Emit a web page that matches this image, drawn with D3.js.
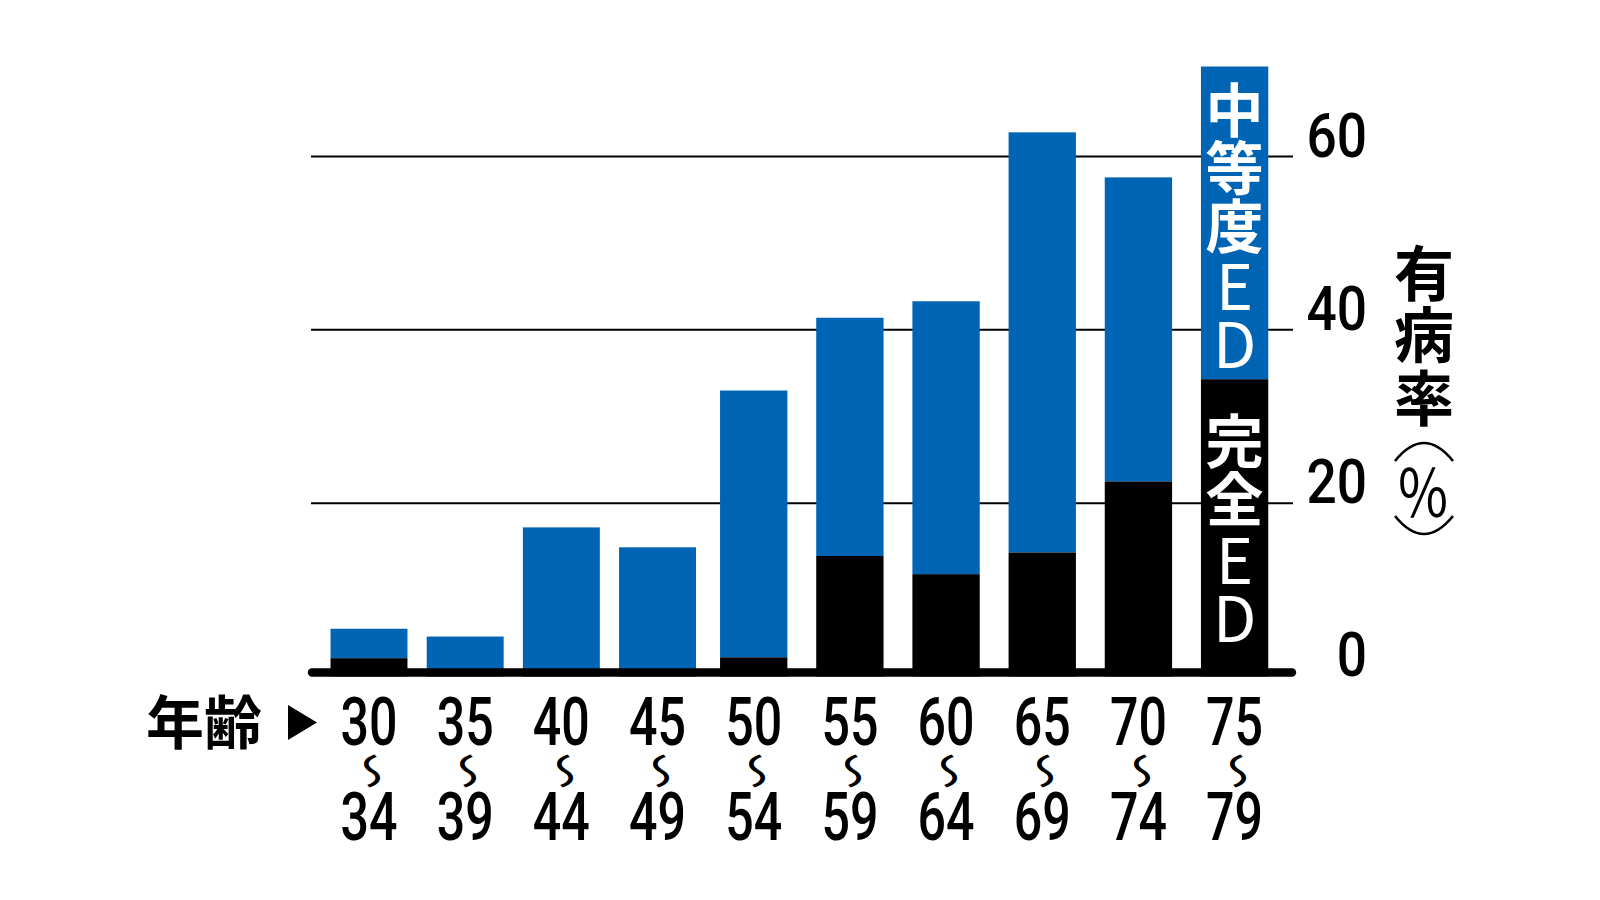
<!DOCTYPE html>
<html>
<head>
<meta charset="utf-8">
<script src="https://cdn.jsdelivr.net/npm/d3@7"></script>
<style>
  html, body { margin: 0; padding: 0; background: #ffffff; }
  svg { display: block; }
  .vt { writing-mode: vertical-rl; text-orientation: upright; }
</style>
</head>
<body>
<script>
// ---- data ----
const ageStart = ["30", "35", "40", "45", "50", "55", "60", "65", "70", "75"];
const ageEnd   = ["34", "39", "44", "49", "54", "59", "64", "69", "74", "79"];
const completeED = [2.1, 0.8, 0.8, 0.8, 2.2, 13.9, 11.8, 14.3, 22.5, 34.3];
const moderateED = [3.4, 3.8, 16.4, 14.1, 30.8, 27.5, 31.5, 48.5, 35.1, 36.1];
const yTicks = [0, 20, 40, 60];
const seriesNames = ["完全ED", "中等度ED"];
const yTitle = "有病率";
const xTitle = "年齢";

const W = 1600, H = 900;
const blue = "#0064b4";
const cjk = "'Noto Sans CJK JP', 'Noto Sans CJK SC', sans-serif";
const num = "Roboto, 'Noto Sans', sans-serif";

const svg = d3.select("body").append("svg").attr("width", W).attr("height", H);

const x = d3.scalePoint().domain(ageStart).range([369, 1234.6]);
const step = x.step();
const y = d3.scaleLinear().domain([0, 60]).range([676.4, 156.6]);

const rows = ageStart.map((a, i) => ({
  a, e: ageEnd[i], c: completeED[i], m: moderateED[i], i
}));

// gridlines
svg.append("g").selectAll("line").data(yTicks.filter(t => t > 0)).join("line")
  .attr("x1", 311).attr("x2", 1293)
  .attr("y1", d => y(d)).attr("y2", d => y(d))
  .attr("stroke", "#000").attr("stroke-width", 2);

// bars
const bw = i => (i < 4 ? 0.8 : 0.7) * step;
const gb = svg.append("g");
gb.selectAll("rect.m").data(rows).join("rect").attr("class", "m")
  .attr("x", d => x(d.a) - bw(d.i) / 2).attr("width", d => bw(d.i))
  .attr("y", d => y(d.c + d.m)).attr("height", d => y(d.c) - y(d.c + d.m))
  .attr("fill", blue);
gb.selectAll("rect.c").data(rows).join("rect").attr("class", "c")
  .attr("x", d => x(d.a) - bw(d.i) / 2).attr("width", d => bw(d.i))
  .attr("y", d => y(d.c)).attr("height", d => y(0) - y(d.c))
  .attr("fill", "#000");

// baseline
svg.append("line").attr("x1", 312).attr("x2", 1292)
  .attr("y1", 672.5).attr("y2", 672.5)
  .attr("stroke", "#000").attr("stroke-width", 8.4).attr("stroke-linecap", "round");

// legend text inside last bar (vertical writing)
const last = rows[rows.length - 1];
const lx = x(last.a);
function vText(str, top) {
  const t = svg.append("text").attr("class", "vt")
    .attr("x", lx).attr("y", top)
    .attr("fill", "#fff")
    .attr("font-family", cjk).attr("font-size", 58);
  const parts = str.match(/[^A-Z]+|[A-Z]+/g);
  parts.forEach(p => {
    const isLatin = /[A-Z]/.test(p);
    t.append("tspan")
      .attr("font-weight", isLatin ? 400 : 700)
      .attr("font-size", isLatin ? 63 : 58)
      .attr("letter-spacing", isLatin ? -5 : 0)
      .text(p);
  });
}
vText(seriesNames[1], y(last.c + last.m) + 14);
vText(seriesNames[0], y(last.c) + 33);

// y tick labels (right side)
svg.append("g").selectAll("text").data(yTicks).join("text")
  .attr("transform", d => `translate(1367,${y(d)}) scale(0.86,1)`)
  .attr("text-anchor", "end")
  .attr("font-family", num).attr("font-weight", 500).attr("font-size", 62)
  .attr("fill", "#000")
  .text(d => d);

// y title (vertical)
const ty = svg.append("g");
ty.append("text").attr("class", "vt")
  .attr("x", 1424).attr("y", 243)
  .attr("letter-spacing", 2.5)
  .attr("font-family", cjk).attr("font-weight", 700).attr("font-size", 60)
  .attr("fill", "#000").text(yTitle);
const arcTop = d3.path();
arcTop.moveTo(1395, 461);
arcTop.quadraticCurveTo(1424, 425, 1453, 461);
const arcBot = d3.path();
arcBot.moveTo(1395, 516);
arcBot.quadraticCurveTo(1424, 552, 1453, 516);
ty.append("path").attr("d", arcTop.toString()).attr("fill", "none").attr("stroke", "#000").attr("stroke-width", 2.6);
ty.append("path").attr("d", arcBot.toString()).attr("fill", "none").attr("stroke", "#000").attr("stroke-width", 2.6);
ty.append("text")
  .attr("transform", "translate(1423,489) scale(0.9,1.08)")
  .attr("text-anchor", "middle").attr("dominant-baseline", "central")
  .attr("font-family", cjk).attr("font-weight", 400).attr("font-size", 60)
  .attr("fill", "#000").text("％");

// x labels
const gx = svg.append("g");
gx.selectAll("text.s").data(rows).join("text").attr("class", "s")
  .attr("transform", d => `translate(${x(d.a)},745) scale(0.76,1)`)
  .attr("text-anchor", "middle")
  .attr("font-family", num).attr("font-weight", 500).attr("font-size", 66)
  .attr("fill", "#000").text(d => d.a);
gx.selectAll("text.e").data(rows).join("text").attr("class", "e")
  .attr("transform", d => `translate(${x(d.a)},840) scale(0.76,1)`)
  .attr("text-anchor", "middle")
  .attr("font-family", num).attr("font-weight", 500).attr("font-size", 66)
  .attr("fill", "#000").text(d => d.e);
gx.selectAll("text.w").data(rows).join("text").attr("class", "w")
  .attr("transform", d => `translate(${x(d.a)},771) rotate(90) scale(1,-1.6)`)
  .attr("text-anchor", "middle").attr("dominant-baseline", "central")
  .attr("font-family", cjk).attr("font-weight", 400).attr("font-size", 36)
  .attr("fill", "#000").text("～");

// x title
svg.append("text").attr("x", 204).attr("y", 719)
  .attr("text-anchor", "middle").attr("dominant-baseline", "central")
  .attr("font-family", cjk).attr("font-weight", 700).attr("font-size", 58)
  .attr("fill", "#000").text(xTitle);
const tri = d3.path();
tri.moveTo(288, 705); tri.lineTo(317, 722.5); tri.lineTo(288, 740); tri.closePath();
svg.append("path").attr("d", tri.toString()).attr("fill", "#000");
</script>
</body>
</html>
